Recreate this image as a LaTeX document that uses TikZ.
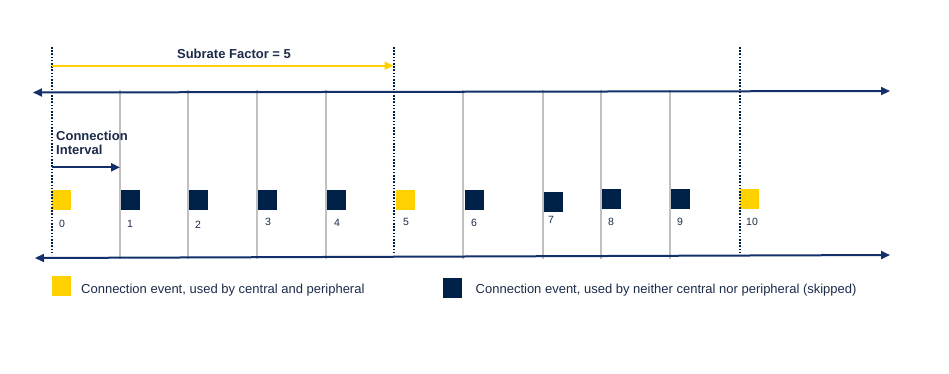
\documentclass[tikz,border=0pt]{standalone}
\usepackage{fontspec}
\setmainfont{Liberation Sans}
\usetikzlibrary{arrows.meta}
\definecolor{navy}{HTML}{002147}
\definecolor{linenavy}{HTML}{13306B}
\definecolor{gold}{HTML}{FFD100}
\definecolor{txt}{HTML}{1C2B4A}
\definecolor{tick}{HTML}{C0C0C0}
\tikzset{
  tipend/.style={-{Triangle[length=9pt,width=8pt]}},
  tipboth/.style={{Triangle[length=9pt,width=8pt]}-{Triangle[length=9pt,width=8pt]}},
  axisline/.style={draw=linenavy, line width=2pt},
  dotline/.style={draw=navy, line width=2pt, dash pattern=on 1.6pt off 1.6pt},
  tickline/.style={draw=tick, line width=2pt},
  evgold/.style={fill=gold, draw=none, minimum width=19pt, minimum height=20pt, inner sep=0pt, anchor=north west},
  evnavy/.style={fill=navy, draw=none, minimum width=19pt, minimum height=20pt, inner sep=0pt, anchor=north west},
  num/.style={text=txt, font=\fontsize{10.5}{12}\selectfont, inner sep=0pt},
  lbl/.style={text=txt, font=\fontsize{13}{15}\selectfont, inner sep=0pt, anchor=west},
  bold/.style={text=txt, font=\fontsize{13}{15.5}\selectfont\bfseries, inner sep=0pt},
}
\begin{document}
\begin{tikzpicture}[x=1pt,y=-1pt]
\useasboundingbox (0,0) rectangle (949,373);
% axis lines
\coordinate (tl) at (33,92.5);
\coordinate (tr) at (890,91);
\coordinate (bl) at (35,258);
\coordinate (br) at (890,255);
% gray ticks
\foreach \n/\x in {1/120,2/188,3/257,4/326,6/463,7/543,8/601,9/670}{
  \coordinate (gt\n) at (\x,90);
  \coordinate (gb\n) at (\x,259);
  \draw[tickline] (gt\n) -- (gb\n);
}
\draw[axisline,tipboth] (tl) -- (tr);
\draw[axisline,tipboth] (bl) -- (br);
% event squares
\node[evgold] (e0) at (52,190) {};
\node[evnavy] (e1) at (121,190) {};
\node[evnavy] (e2) at (189,190) {};
\node[evnavy] (e3) at (258,190) {};
\node[evnavy] (e4) at (327,190) {};
\node[evgold] (e5) at (396,190) {};
\node[evnavy] (e6) at (465,190) {};
\node[evnavy] (e7) at (544,192) {};
\node[evnavy] (e8) at (602,189) {};
\node[evnavy] (e9) at (671,189) {};
\node[evgold] (e10) at (740,189) {};
% dotted lines
\coordinate (d0t) at (52,47);  \coordinate (d0b) at (52,255);
\coordinate (d5t) at (393.5,47); \coordinate (d5b) at (393.5,255);
\coordinate (d10t) at (740,47); \coordinate (d10b) at (740,254);
\draw[dotline] (d0t) -- (d0b);
\draw[dotline] (d5t) -- (d5b);
\draw[dotline] (d10t) -- (d10b);
% numbers
\node[num] (n0) at (62,224) {0};
\node[num] (n1) at (130,224) {1};
\node[num] (n2) at (198,225) {2};
\node[num] (n3) at (268,222) {3};
\node[num] (n4) at (337,223) {4};
\node[num] (n5) at (406,222) {5};
\node[num] (n6) at (474,223) {6};
\node[num] (n7) at (551,220) {7};
\node[num] (n8) at (611,222) {8};
\node[num] (n9) at (680,222) {9};
\node[num] (n10) at (752,222) {10};
% subrate arrow
\coordinate (sa) at (52,65.7);
\coordinate (sb) at (393.5,65.7);
\draw[draw=gold, line width=2.2pt, tipend] (sa) -- (sb);
\node[bold] (sf) at (234,54) {Subrate Factor = 5};
% connection interval
\node[bold, anchor=west, align=left, text width=80pt] (ci) at (56,143) {Connection\\[-1.5pt]Interval};
\coordinate (ca) at (52,167.3);
\coordinate (cb) at (120,167.3);
\draw[draw=linenavy, line width=2pt, tipend] (ca) -- (cb);
% legend
\node[evgold] (lg1) at (52,276) {};
\node[lbl] (lt1) at (81,290.5) {Connection event, used by central and peripheral};
\node[evnavy] (lg2) at (443,278) {};
\node[lbl] (lt2) at (475.5,290.5) {Connection event, used by neither central nor peripheral (skipped)};
\end{tikzpicture}
\end{document}
